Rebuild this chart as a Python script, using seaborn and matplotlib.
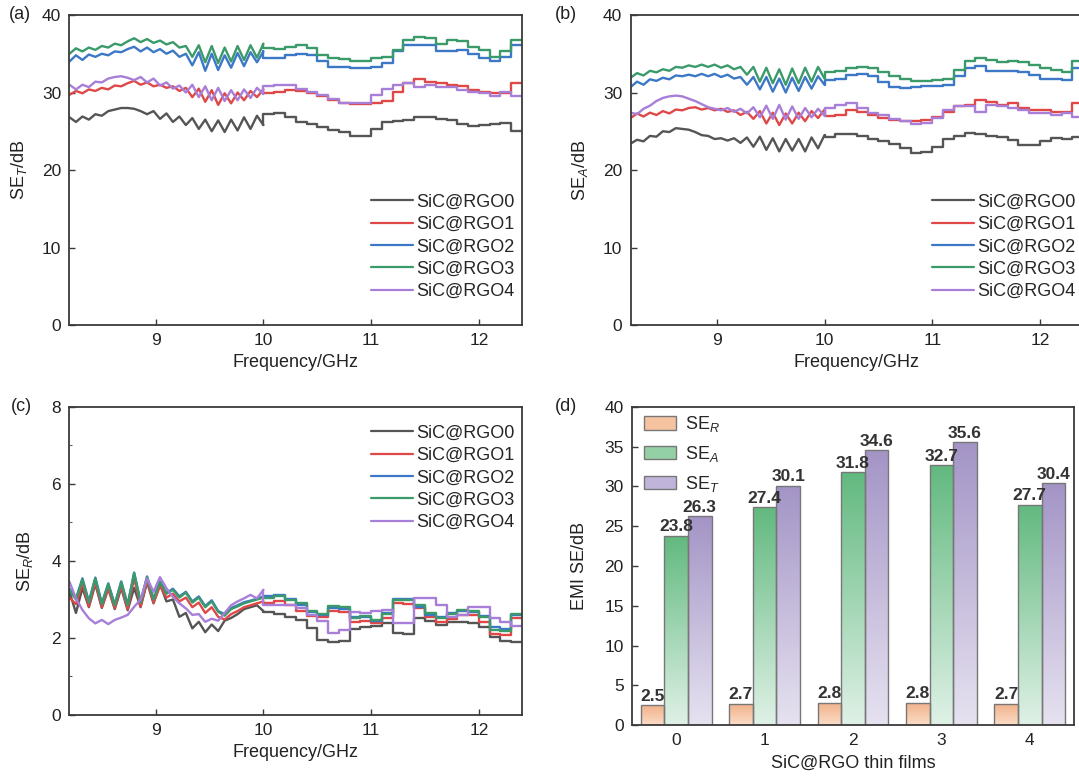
import numpy as np
import pandas as pd
import matplotlib
matplotlib.use("Agg")
import matplotlib.pyplot as plt
import seaborn as sns
from matplotlib.lines import Line2D
from matplotlib.patches import Patch
from matplotlib.colors import LinearSegmentedColormap

# ---- data ----
samples = ["SiC@RGO0", "SiC@RGO1", "SiC@RGO2", "SiC@RGO3", "SiC@RGO4"]
freq_osc = list(np.round(np.linspace(8.2, 10.0, 31), 2))
freq_step = [10.0, 10.1, 10.2, 10.3, 10.4, 10.5, 10.6, 10.7, 10.8, 10.9, 11.0, 11.1,
             11.2, 11.3, 11.4, 11.5, 11.6, 11.7, 11.8, 11.9, 12.0, 12.1, 12.2, 12.3]

# (a) SE_T
t_osc0 = [26.8, 26.2, 26.9, 26.5, 27.2, 27.0, 27.6, 27.8, 28.0, 28.0, 27.9, 27.6, 27.2, 27.6, 26.6, 27.3,
          26.2, 26.9, 25.8, 26.7, 25.3, 26.5, 25.0, 26.4, 24.9, 26.5, 25.1, 26.8, 25.3, 27.0, 25.8]
t_osc1 = [29.7, 30.2, 29.9, 30.4, 30.2, 30.6, 30.4, 30.9, 30.8, 31.2, 31.5, 31.0, 31.3, 30.8, 31.0, 30.6,
          30.8, 30.2, 30.6, 29.4, 30.5, 28.8, 30.3, 28.4, 29.9, 28.6, 30.0, 29.0, 30.2, 29.4, 30.4]
t_osc2 = [34.0, 34.8, 34.2, 34.9, 34.6, 35.0, 34.8, 35.3, 35.2, 35.6, 35.9, 35.3, 35.8, 35.2, 35.6, 35.0,
          35.4, 34.6, 35.0, 33.5, 35.2, 32.8, 35.0, 32.9, 34.8, 33.2, 35.1, 33.4, 35.2, 33.9, 35.3]
t_osc3 = [35.0, 35.7, 35.3, 35.8, 35.5, 36.0, 35.8, 36.3, 36.1, 36.6, 37.0, 36.5, 36.9, 36.4, 36.7, 36.2,
          36.5, 35.8, 36.0, 34.6, 36.1, 33.9, 36.0, 33.8, 35.8, 34.0, 36.0, 34.2, 36.1, 34.5, 36.3]
t_osc4 = [31.0, 30.4, 31.0, 30.7, 31.4, 31.3, 31.8, 32.0, 32.1, 31.9, 31.6, 32.0, 31.3, 31.8, 30.9, 31.3,
          30.5, 30.9, 30.0, 31.0, 29.4, 30.8, 29.0, 30.6, 28.9, 30.3, 29.0, 30.4, 29.3, 30.6, 29.8]
t_step0 = [27.2, 27.3, 26.8, 26.2, 26.0, 25.6, 25.2, 24.9, 24.4, 24.4, 25.3, 26.2,
           26.3, 26.5, 26.9, 26.8, 26.6, 26.4, 26.0, 25.7, 25.8, 25.9, 26.1, 25.0]
t_step1 = [30.0, 30.1, 30.3, 30.2, 29.9, 29.5, 29.0, 28.7, 28.5, 28.5, 28.6, 28.9,
           30.1, 31.2, 31.8, 31.4, 31.2, 31.0, 30.8, 30.3, 30.1, 29.9, 29.9, 31.2]
t_step2 = [34.4, 34.5, 34.9, 35.0, 34.8, 34.1, 33.3, 33.3, 33.1, 33.2, 33.3, 33.8,
           35.3, 36.1, 36.1, 36.1, 35.3, 35.4, 35.5, 35.0, 34.4, 34.0, 34.6, 36.1]
t_step3 = [35.7, 35.6, 35.9, 36.1, 35.8, 34.8, 34.4, 34.3, 34.1, 34.1, 34.4, 34.6,
           35.5, 36.8, 37.2, 37.0, 36.3, 36.8, 36.6, 35.9, 35.5, 34.6, 35.3, 36.8]
t_step4 = [30.8, 31.0, 31.0, 30.5, 30.1, 29.7, 29.2, 28.7, 28.6, 28.6, 29.7, 30.5,
           31.0, 31.2, 30.7, 31.0, 30.7, 30.7, 30.3, 30.1, 29.9, 29.5, 30.1, 29.5]

# (b) SE_A
a_osc0 = [23.4, 23.9, 23.7, 24.4, 24.3, 25.0, 24.9, 25.4, 25.3, 25.2, 24.9, 24.5, 24.4, 24.0, 24.1, 23.8,
          24.1, 23.5, 24.2, 23.0, 24.3, 22.6, 24.1, 22.4, 24.0, 22.5, 24.0, 22.4, 24.2, 22.8, 24.5]
a_osc1 = [26.7, 27.3, 26.9, 27.4, 27.1, 27.6, 27.3, 27.8, 27.7, 28.0, 28.1, 27.8, 28.0, 27.7, 27.9, 27.5,
          27.7, 27.1, 27.5, 26.6, 27.6, 26.0, 27.4, 25.8, 27.3, 26.0, 27.4, 26.3, 27.6, 26.7, 27.8]
a_osc2 = [30.7, 31.4, 31.0, 31.7, 31.5, 31.9, 31.7, 32.2, 32.1, 32.3, 32.1, 32.4, 32.1, 32.4, 32.0, 32.3,
          31.8, 32.0, 31.0, 32.0, 30.4, 32.0, 30.1, 31.8, 30.0, 31.9, 30.2, 32.0, 30.5, 32.1, 31.0]
a_osc3 = [31.9, 32.5, 32.2, 32.8, 32.6, 33.0, 32.8, 33.3, 33.2, 33.5, 33.3, 33.6, 33.3, 33.6, 33.2, 33.5,
          33.0, 33.3, 32.3, 33.3, 31.4, 33.2, 31.2, 33.0, 31.0, 33.1, 31.2, 33.2, 31.4, 33.3, 31.8]
a_osc4 = [27.4, 27.2, 27.9, 28.3, 28.9, 29.3, 29.5, 29.6, 29.5, 29.2, 28.9, 28.5, 28.1, 27.9, 27.7, 28.0,
          27.5, 27.9, 27.3, 28.1, 26.8, 28.3, 26.6, 28.4, 26.5, 28.2, 26.6, 28.0, 26.8, 27.9, 27.0]
a_step0 = [24.3, 24.6, 24.6, 24.4, 24.0, 23.7, 23.4, 22.8, 22.2, 22.3, 23.0, 24.0,
           24.4, 24.8, 24.7, 24.4, 24.2, 23.9, 23.2, 23.2, 23.7, 24.1, 24.0, 24.2]
a_step1 = [27.0, 27.1, 27.8, 27.5, 27.1, 26.7, 26.4, 26.3, 26.3, 26.4, 26.9, 27.5,
           28.2, 28.4, 29.0, 28.8, 28.4, 28.6, 28.0, 27.8, 27.8, 27.5, 27.5, 28.6]
a_step2 = [31.6, 31.8, 32.3, 32.4, 32.1, 31.4, 30.7, 30.6, 30.7, 30.8, 30.9, 31.0,
           32.1, 33.1, 33.4, 32.8, 32.8, 32.8, 32.6, 32.3, 31.8, 31.8, 31.6, 33.1]
a_step3 = [32.6, 32.8, 33.1, 33.3, 33.2, 32.7, 32.1, 31.7, 31.5, 31.5, 31.6, 31.8,
           32.9, 34.0, 34.4, 34.2, 33.9, 34.0, 33.9, 33.6, 33.1, 32.9, 32.7, 34.0]
a_step4 = [28.0, 28.4, 28.6, 28.0, 27.3, 27.1, 26.6, 26.3, 26.0, 26.1, 26.7, 27.8,
           28.2, 28.3, 27.5, 28.4, 28.3, 28.0, 27.8, 27.3, 27.3, 27.1, 27.3, 26.9]

# (c) SE_R
r_osc0 = [3.20, 2.65, 3.30, 2.80, 3.40, 2.78, 3.28, 2.75, 3.30, 2.72, 3.30, 2.80, 3.45, 2.90, 3.40, 2.95,
          3.00, 2.55, 2.65, 2.25, 2.42, 2.15, 2.35, 2.18, 2.45, 2.52, 2.62, 2.75, 2.80, 2.85, 2.70]
r_osc1 = [3.05, 2.88, 3.42, 2.82, 3.45, 2.80, 3.30, 2.78, 3.35, 2.75, 3.55, 2.82, 3.48, 2.92, 3.35, 3.05,
          3.15, 2.95, 3.05, 2.80, 2.92, 2.65, 2.80, 2.55, 2.48, 2.62, 2.70, 2.80, 2.85, 2.90, 2.95]
r_osc2 = [3.28, 3.02, 3.55, 2.95, 3.57, 2.90, 3.42, 2.87, 3.47, 2.87, 3.70, 2.95, 3.60, 3.02, 3.47, 3.17,
          3.28, 3.08, 3.20, 2.95, 3.08, 2.83, 2.98, 2.70, 2.62, 2.78, 2.85, 2.93, 2.97, 3.02, 3.08]
r_osc3 = [3.25, 3.00, 3.52, 2.92, 3.55, 2.88, 3.40, 2.85, 3.45, 2.85, 3.68, 2.92, 3.58, 3.00, 3.45, 3.15,
          3.25, 3.05, 3.18, 2.92, 3.05, 2.80, 2.95, 2.68, 2.58, 2.75, 2.82, 2.90, 2.95, 3.00, 3.05]
r_osc4 = [3.46, 3.03, 2.73, 2.51, 2.38, 2.47, 2.36, 2.47, 2.53, 2.60, 2.81, 3.00, 3.55, 3.20, 3.58, 3.29,
          3.07, 2.90, 2.77, 2.60, 2.62, 2.42, 2.50, 2.45, 2.65, 2.85, 2.95, 3.03, 3.12, 3.03, 3.25]
r_step0 = [2.68, 2.62, 2.55, 2.47, 2.27, 1.95, 1.89, 1.92, 2.23, 2.29, 2.30, 2.38,
           2.12, 2.10, 2.51, 2.45, 2.34, 2.42, 2.42, 2.40, 2.29, 2.03, 1.92, 1.89]
r_step1 = [2.90, 2.95, 2.86, 2.70, 2.58, 2.55, 2.70, 2.68, 2.42, 2.44, 2.38, 2.51,
           2.90, 2.88, 2.77, 2.55, 2.42, 2.50, 2.60, 2.60, 2.42, 2.10, 2.08, 2.51]
r_step2 = [3.08, 3.12, 3.00, 2.85, 2.68, 2.60, 2.78, 2.76, 2.55, 2.55, 2.45, 2.65,
           3.01, 3.00, 2.80, 2.60, 2.55, 2.65, 2.70, 2.68, 2.58, 2.28, 2.24, 2.60]
r_step3 = [3.05, 3.08, 2.98, 2.90, 2.70, 2.62, 2.82, 2.80, 2.52, 2.58, 2.48, 2.62,
           2.98, 2.98, 2.85, 2.65, 2.52, 2.62, 2.72, 2.70, 2.55, 2.22, 2.18, 2.62]
r_step4 = [2.85, 2.85, 2.86, 2.77, 2.61, 2.45, 2.12, 2.20, 2.68, 2.65, 2.70, 2.73,
           2.38, 2.40, 3.03, 3.05, 2.86, 2.55, 2.60, 2.80, 2.80, 2.51, 2.42, 2.32]

# (d) bars
films = ["0", "1", "2", "3", "4"]
se_r = [2.5, 2.7, 2.8, 2.8, 2.7]
se_a = [23.8, 27.4, 31.8, 32.7, 27.7]
se_t = [26.3, 30.1, 34.6, 35.6, 30.4]

# ---- style ----
sns.set_style("ticks")
plt.rcParams["font.family"] = ["Liberation Sans", "DejaVu Sans"]
plt.rcParams["mathtext.fontset"] = "custom"
plt.rcParams["mathtext.rm"] = "Liberation Sans"
plt.rcParams["mathtext.it"] = "Liberation Sans:italic"
plt.rcParams["axes.edgecolor"] = "#3a3a3a"
plt.rcParams["axes.linewidth"] = 1.3

line_colors = ["#555555", "#e04848", "#3c78c6", "#3a9a6a", "#a77fd8"]
text_c = "#333333"
fig = plt.figure(figsize=(10.79, 7.77), dpi=100)


def style_axis(ax, xlab, ylab, ylab_x):
    ax.tick_params(direction="in", length=4, width=1, colors="#3a3a3a",
                   labelsize=12.5, labelcolor="#222222", pad=6)
    ax.set_xlabel(xlab, fontsize=13, color="#222222")
    ax.set_ylabel(ylab, fontsize=13, color="#222222")
    ax.xaxis.set_label_coords(0.5, -0.094)
    ax.yaxis.set_label_coords(ylab_x, 0.5)


def draw_curves(ax, osc, steps):
    for i in range(5):
        d1 = pd.DataFrame({"f": freq_osc, "v": osc[i]})
        sns.lineplot(data=d1, x="f", y="v", ax=ax, color=line_colors[i], lw=1.7,
                     estimator=None, sort=False)
        d2 = pd.DataFrame({"f": [10.0] + freq_step + [12.4],
                           "v": [osc[i][-1]] + steps[i] + [steps[i][-1]]})
        sns.lineplot(data=d2, x="f", y="v", ax=ax, color=line_colors[i], lw=1.7,
                     estimator=None, sort=False, drawstyle="steps-post")
    ax.set_xlim(8.2, 12.4)
    ax.set_xticks([9, 10, 11, 12])


def curve_legend(ax, ycen):
    handles = [Line2D([], [], color=c, lw=1.6) for c in line_colors]
    ax.legend(handles, samples, loc="center right", bbox_to_anchor=(1.0, ycen),
              borderaxespad=0, frameon=False, fontsize=13, handlelength=2.3,
              handletextpad=0.2, labelspacing=0.3)


# (a)
ax_a = fig.add_axes([0.0644, 0.5817, 0.4194, 0.399])
draw_curves(ax_a, [t_osc0, t_osc1, t_osc2, t_osc3, t_osc4],
            [t_step0, t_step1, t_step2, t_step3, t_step4])
ax_a.set_ylim(0, 40)
ax_a.set_yticks([0, 10, 20, 30, 40])
style_axis(ax_a, "Frequency/GHz", "SE$_T$/dB", -0.09)
curve_legend(ax_a, 0.252)

# (b)
ax_b = fig.add_axes([0.5844, 0.5817, 0.4194, 0.399])
draw_curves(ax_b, [a_osc0, a_osc1, a_osc2, a_osc3, a_osc4],
            [a_step0, a_step1, a_step2, a_step3, a_step4])
ax_b.set_ylim(0, 40)
ax_b.set_yticks([0, 10, 20, 30, 40])
style_axis(ax_b, "Frequency/GHz", "SE$_A$/dB", -0.09)
curve_legend(ax_b, 0.252)

# (c)
ax_c = fig.add_axes([0.0644, 0.0798, 0.4194, 0.3964])
draw_curves(ax_c, [r_osc0, r_osc1, r_osc2, r_osc3, r_osc4],
            [r_step0, r_step1, r_step2, r_step3, r_step4])
ax_c.set_ylim(0, 8)
ax_c.set_yticks([0, 2, 4, 6, 8])
ax_c.set_yticks([1, 3, 5, 7], minor=True)
style_axis(ax_c, "Frequency/GHz", "SE$_R$/dB", -0.076)
ax_c.tick_params(axis="y", which="minor", direction="in", length=2, color="#3a3a3a")
curve_legend(ax_c, 0.77)

# (d)
ax_d = fig.add_axes([0.5857, 0.0669, 0.4096, 0.4093])
kinds = ["SE$_R$", "SE$_A$", "SE$_T$"]
df_bar = pd.DataFrame({"film": films * 3,
                       "kind": [kinds[0]] * 5 + [kinds[1]] * 5 + [kinds[2]] * 5,
                       "value": se_r + se_a + se_t})
solid = ["#f5c3a0", "#94d0a6", "#c0b4da"]
sns.barplot(data=df_bar, x="film", y="value", hue="kind", palette=solid, ax=ax_d,
            edgecolor="#777777", linewidth=1.0, saturation=1, width=0.8, legend=False)
grads = [("#fbdcc6", "#f0b189"), ("#dff1e6", "#62b97f"), ("#e6e2f0", "#a394c6")]
for cont, (bot, top) in zip(ax_d.containers, grads):
    cmap = LinearSegmentedColormap.from_list("g", [bot, top])
    for bar in cont:
        x0, w, h = bar.get_x(), bar.get_width(), bar.get_height()
        im = ax_d.imshow(np.linspace(0, 1, 128).reshape(-1, 1), cmap=cmap, origin="lower",
                         extent=(x0, x0 + w, 0, h), aspect="auto", zorder=1.5)
        im.set_clip_path(bar)
        bar.set_facecolor("none")
        bar.set_zorder(2)
    ax_d.bar_label(cont, fmt="%.1f", padding=1, fontsize=12.5, color=text_c,
                   fontweight="bold")
ax_d.set_xlim(-0.5, 4.5)
ax_d.set_ylim(0, 40)
ax_d.set_yticks(range(0, 41, 5))
style_axis(ax_d, "SiC@RGO thin films", "EMI SE/dB", -0.10)
leg_handles = [Patch(facecolor=c, edgecolor="#777777") for c in solid]
ax_d.legend(leg_handles, kinds, loc="upper left", bbox_to_anchor=(0.01, 1.0),
            borderaxespad=0, frameon=False, fontsize=13, handlelength=1.8,
            handleheight=0.75, handletextpad=0.5, labelspacing=0.55)

# panel letters
for x, y, s in [(0.008, 0.9807, "(a)"), (0.514, 0.9807, "(b)"),
                (0.010, 0.4762, "(c)"), (0.514, 0.4762, "(d)")]:
    fig.text(x, y, s, fontsize=13, color="#222222", va="center", ha="left")

fig.savefig("out.png", dpi=100)
